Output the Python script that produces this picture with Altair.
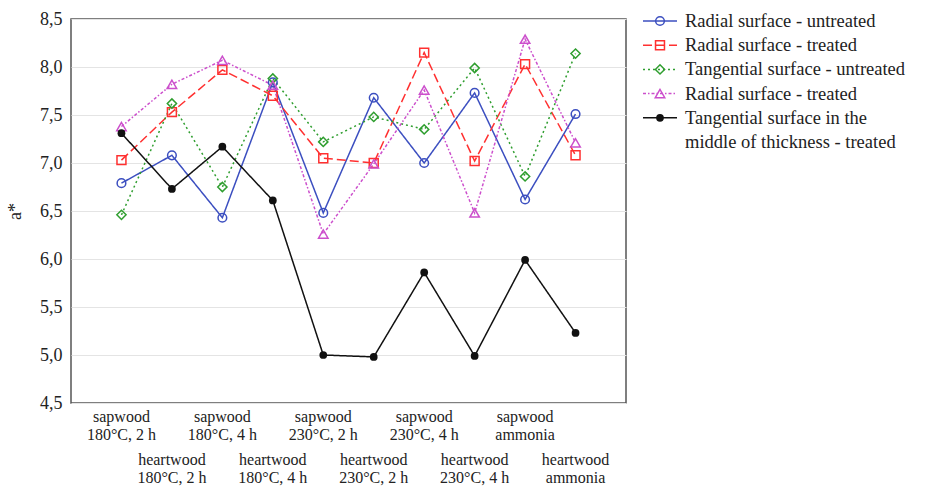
import altair as alt
import pandas as pd

# ---- data -------------------------------------------------------------
wood = ["sapwood", "heartwood", "sapwood", "heartwood", "sapwood",
        "heartwood", "sapwood", "heartwood", "sapwood", "heartwood"]
treatment = ["180°C, 2 h", "180°C, 2 h", "180°C, 4 h", "180°C, 4 h",
             "230°C, 2 h", "230°C, 2 h", "230°C, 4 h", "230°C, 4 h",
             "ammonia", "ammonia"]
categories = [f"{w}|{t}" for w, t in zip(wood, treatment)]

series_ids = ["s1", "s2", "s3", "s4", "s5"]
series_labels = [
    "Radial surface - untreated",
    "Radial surface - treated",
    "Tangential surface - untreated",
    "Radial surface - treated",
    "Tangential surface in the",
]
legend_extra_line = "middle of thickness - treated"

radial_untreated = [6.79, 7.08, 6.43, 7.84, 6.48, 7.68, 7.00, 7.73, 6.62, 7.51]
radial_treated = [7.03, 7.53, 7.97, 7.70, 7.05, 7.00, 8.15, 7.02, 8.03, 7.08]
tangential_untreated = [6.46, 7.62, 6.75, 7.88, 7.22, 7.48, 7.35, 7.99, 6.86, 8.14]
radial_treated_2 = [7.38, 7.82, 8.07, 7.81, 6.26, 6.99, 7.76, 6.48, 8.29, 7.21]
tangential_middle = [7.31, 6.73, 7.17, 6.61, 5.00, 4.98, 5.86, 4.99, 5.99, 5.23]
all_values = [radial_untreated, radial_treated, tangential_untreated,
              radial_treated_2, tangential_middle]

y_ticks = [4.5, 5.0, 5.5, 6.0, 6.5, 7.0, 7.5, 8.0, 8.5]

# ---- styles ------------------------------------------------------------
colors = ["#3c4fc0", "#ff3030", "#2f9e2f", "#cc4fcc", "#111111"]
dashes = [[1, 0], [9, 4], [2, 3], [3, 2, 1.5, 2], [1, 0]]
shapes = ["circle", "square", "diamond", "triangle-up", "circle"]
sizes = [75, 95, 40, 60, 60]

FONT = "Liberation Serif"
W, H = 555, 384

rows = []
for sid, vals in zip(series_ids, all_values):
    for c, v in zip(categories, vals):
        rows.append({"cat": c, "series": sid, "value": v})
df = pd.DataFrame(rows)

lab = pd.DataFrame({"cat": categories, "wood": wood, "treat": treatment,
                    "text": categories})

leg = pd.DataFrame({"series": series_ids, "label": series_labels,
                    "row": list(range(5))})
leg_text = pd.DataFrame({"label": series_labels + [legend_extra_line],
                         "row": list(range(6))})

color_sc = alt.Scale(domain=series_ids, range=colors)
dash_sc = alt.Scale(domain=series_ids, range=dashes)
shape_sc = alt.Scale(domain=series_ids, range=shapes)
size_sc = alt.Scale(domain=series_ids, range=sizes)

x_enc = alt.X("cat:N", sort=categories,
              scale=alt.Scale(type="point", padding=1),
              axis=alt.Axis(labels=False, ticks=False, domain=False,
                            grid=True, gridColor="#e4e4e4", title=None))
y_sc = alt.Scale(domain=[4.5, 8.5], nice=False, zero=False)
y_main = alt.Y("value:Q", scale=y_sc,
               axis=alt.Axis(values=y_ticks,
                             labelExpr="replace(format(datum.value, '.1f'), '.', ',')",
                             labelFont=FONT, labelFontSize=18, labelColor="#222",
                             labelPadding=9, ticks=False, domain=False,
                             grid=True, gridColor="#e4e4e4",
                             title="a*", titleFont=FONT, titleFontSize=18,
                             titleFontWeight="normal", titleColor="#222",
                             titleBaseline="middle", titleAlign="center",
                             titleX=-56, titleY=192))
y_noaxis = alt.Y("value:Q", scale=y_sc, axis=None)

lines = alt.Chart(df).mark_line(strokeWidth=1.5).encode(
    x=x_enc, y=y_main,
    color=alt.Color("series:N", scale=color_sc, legend=None),
    strokeDash=alt.StrokeDash("series:N", scale=dash_sc, legend=None),
    detail="series:N",
)
open_pts = alt.Chart(df).transform_filter(
    alt.datum.series != "s5").mark_point(filled=False, strokeWidth=1.5, opacity=1).encode(
    x=x_enc, y=y_noaxis,
    color=alt.Color("series:N", scale=color_sc, legend=None),
    shape=alt.Shape("series:N", scale=shape_sc, legend=None),
    size=alt.Size("series:N", scale=size_sc, legend=None),
)
filled_pts = alt.Chart(df).transform_filter(
    alt.datum.series == "s5").mark_point(filled=True, shape="circle", size=60,
                                         opacity=1, color="#111111").encode(
    x=x_enc, y=y_noaxis,
)

# x category labels (two staggered rows)
x_lab = alt.X("cat:N", sort=categories, scale=alt.Scale(type="point", padding=1), axis=None)
xlab_sap = alt.Chart(lab).transform_filter(alt.datum.wood == "sapwood").transform_calculate(
    t="split(datum.text, '|')").mark_text(
    font=FONT, fontSize=16, baseline="top", lineHeight=18, color="#222").encode(
    x=x_lab, y=alt.value(H + 6), text="t:N")
xlab_heart = alt.Chart(lab).transform_filter(alt.datum.wood == "heartwood").transform_calculate(
    t="split(datum.text, '|')").mark_text(
    font=FONT, fontSize=16, baseline="top", lineHeight=18, color="#222").encode(
    x=x_lab, y=alt.value(H + 49), text="t:N")

# legend drawn beside the plot
leg_y = alt.Y("row:Q", scale=alt.Scale(domain=[-0.083, 15.785], reverse=True,
                                       nice=False, zero=False), axis=None)
leg_rule = alt.Chart(leg).mark_rule(strokeWidth=1.5).encode(
    x=alt.value(572), x2=alt.value(606), y=leg_y,
    color=alt.Color("series:N", scale=color_sc, legend=None),
    strokeDash=alt.StrokeDash("series:N", scale=dash_sc, legend=None),
)
leg_open = alt.Chart(leg).transform_filter(alt.datum.series != "s5").mark_point(
    filled=False, strokeWidth=1.5, opacity=1).encode(
    x=alt.value(589), y=leg_y,
    color=alt.Color("series:N", scale=color_sc, legend=None),
    shape=alt.Shape("series:N", scale=shape_sc, legend=None),
    size=alt.Size("series:N", scale=size_sc, legend=None),
)
leg_fill = alt.Chart(leg).transform_filter(alt.datum.series == "s5").mark_point(
    filled=True, shape="circle", size=60, opacity=1, color="#111111").encode(
    x=alt.value(589), y=leg_y)
leg_txt = alt.Chart(leg_text).mark_text(
    font=FONT, fontSize=18.5, align="left", baseline="middle", color="#222").encode(
    x=alt.value(614), y=leg_y, text="label:N")

chart = alt.layer(
    lines, open_pts, filled_pts, xlab_sap, xlab_heart,
    leg_rule, leg_open, leg_fill, leg_txt,
).resolve_scale(y="independent").properties(
    width=W, height=H,
    autosize=alt.AutoSizeParams(type="none"),
    padding={"left": 71, "top": 19, "right": 938 - 71 - W, "bottom": 486 - 19 - H},
    background="white",
).configure_view(stroke="#555555", strokeWidth=1.5)

chart.save("out.html", embed_options={"renderer": "svg", "actions": False})
